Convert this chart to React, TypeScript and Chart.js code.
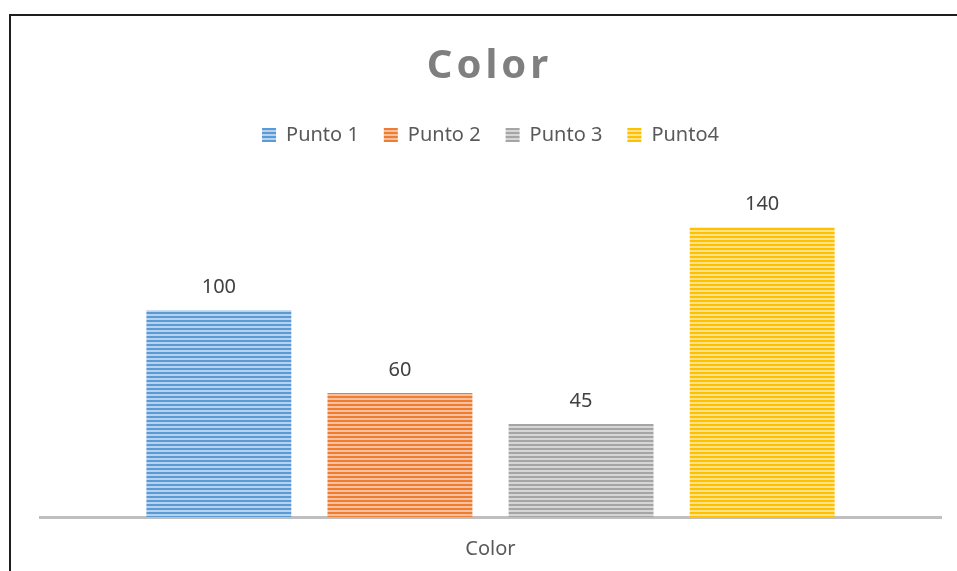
import React, { useEffect, useRef } from "react";
import { Chart, registerables } from "chart.js";

Chart.register(...registerables);

const categories = ["Color"];
const seriesNames = ["Punto 1", "Punto 2", "Punto 3", "Punto4"];
const seriesValues = [100, 60, 45, 140];
const seriesColors = ["#5b9bd5", "#ed7d31", "#a5a5a5", "#ffc000"];
const seriesLight = ["#b7d2ee", "#f7c0a0", "#d6d6d6", "#ffe28a"];
const titleText = "Color";
const yMin = 0;
const yMax = 160;

const FONT = '"Noto Sans", "Open Sans", sans-serif';

function makeStripe(dark: string, light: string): CanvasPattern | string {
  const c = document.createElement("canvas");
  c.width = 8;
  c.height = 4;
  const g = c.getContext("2d");
  if (!g) return dark;
  g.fillStyle = light;
  g.fillRect(0, 0, 8, 4);
  g.fillStyle = dark;
  g.fillRect(0, 0, 8, 2);
  const p = g.createPattern(c, "repeat");
  return p || dark;
}

export default function App() {
  const ref = useRef<HTMLCanvasElement | null>(null);

  useEffect(() => {
    const canvas = ref.current;
    if (!canvas) return;

    const frame = {
      id: "frame",
      beforeDraw(chart: any) {
        const ctx = chart.ctx;
        ctx.save();
        ctx.fillStyle = "#ffffff";
        ctx.fillRect(0, 0, chart.width, chart.height);
        ctx.strokeStyle = "#1e1e1e";
        ctx.lineWidth = 2;
        ctx.strokeRect(10, 15, 3000, 3000);
        ctx.restore();
      },
    };

    const spacedTitle = {
      id: "spacedTitle",
      beforeLayout(chart: any) {
        const lg = chart.legend;
        if (lg && !lg.__patched) {
          lg.__patched = true;
          const origFit = lg.fit;
          lg.fit = function () {
            origFit.call(this);
            this.height += 31;
          };
        }
      },
      afterDraw(chart: any) {
        const ctx = chart.ctx;
        const ca = chart.chartArea;
        ctx.save();
        ctx.font = `bold 40px ${FONT}`;
        ctx.fillStyle = "#7f7f7f";
        ctx.textAlign = "center";
        ctx.textBaseline = "alphabetic";
        (ctx as any).letterSpacing = "4px";
        ctx.fillText(titleText, (ca.left + ca.right) / 2 - 1, 78);
        ctx.restore();
      },
    };

    const valueLabels = {
      id: "valueLabels",
      afterDatasetsDraw(chart: any) {
        const ctx = chart.ctx;
        ctx.save();
        ctx.font = `20px ${FONT}`;
        ctx.fillStyle = "#404040";
        ctx.textAlign = "center";
        ctx.textBaseline = "alphabetic";
        chart.data.datasets.forEach((ds: any, i: number) => {
          const meta = chart.getDatasetMeta(i);
          meta.data.forEach((bar: any, j: number) => {
            ctx.fillText(String(ds.data[j]), bar.x, bar.y - 17);
          });
        });
        ctx.restore();
      },
    };

    const chart = new Chart(canvas, {
      type: "bar",
      data: {
        labels: categories,
        datasets: seriesNames.map((name, i) => ({
          label: name,
          data: [seriesValues[i]],
          backgroundColor: makeStripe(seriesColors[i], seriesLight[i]) as any,
          borderWidth: 0,
          categoryPercentage: 0.804,
          barPercentage: 0.8,
        })),
      },
      options: {
        responsive: false,
        animation: false,
        layout: { padding: { left: 40, right: 16, top: 100, bottom: 0 } },
        plugins: {
          title: { display: false },
          tooltip: { enabled: false },
          legend: {
            display: true,
            position: "top",
            labels: {
              boxWidth: 14,
              boxHeight: 14,
              padding: 25,
              color: "#595959",
              font: { family: FONT, size: 20 },
            },
          },
        },
        scales: {
          x: {
            z: 1,
            grid: { display: false, drawTicks: false },
            border: { display: true, color: "#bfbfbf", width: 3 },
            ticks: {
              color: "#595959",
              font: { family: FONT, size: 20 },
              padding: 20,
            },
            afterFit(scale: any) {
              scale.height = 54;
            },
          },
          y: {
            display: false,
            min: yMin,
            max: yMax,
          },
        },
      },
      plugins: [frame, spacedTitle, valueLabels],
    });

    return () => chart.destroy();
  }, []);

  return (
    <canvas
      ref={ref}
      width={957}
      height={571}
      style={{ position: "fixed", left: 0, top: 0, display: "block", width: 957, height: 571 }}
    />
  );
}
